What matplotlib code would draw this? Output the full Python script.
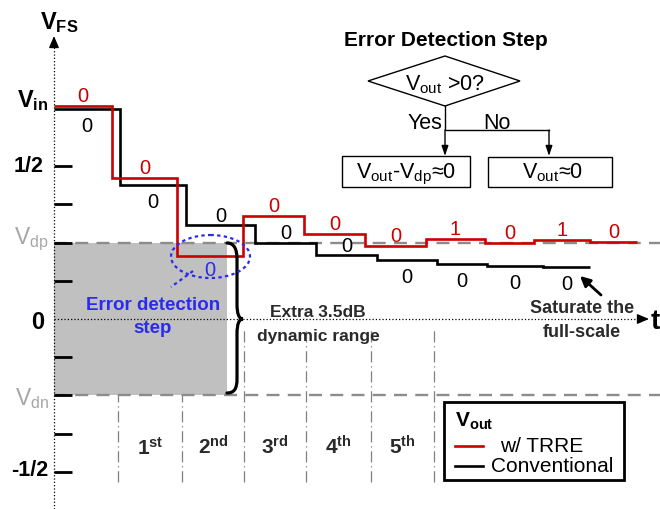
import matplotlib
matplotlib.use("Agg")
import matplotlib.pyplot as plt
from matplotlib.patches import Polygon, Rectangle, Ellipse, PathPatch
from matplotlib.path import Path

plt.rcParams['font.family'] = ['Liberation Sans', 'DejaVu Sans']
plt.rcParams['mathtext.fontset'] = 'custom'
plt.rcParams['mathtext.rm'] = 'Liberation Sans'
plt.rcParams['mathtext.it'] = 'Liberation Sans'
plt.rcParams['mathtext.bf'] = 'Liberation Sans:bold'

# step waveforms (time in arbitrary units, voltage in V_FS units)
t_red = [0, 58, 123, 189, 250, 311, 372, 431, 480, 536, 583]
v_red = [0.696, 0.461, 0.206, 0.337, 0.278, 0.239, 0.261, 0.248, 0.258, 0.252]
bits_red = ['0', '0', '0', '0', '0', '0', '1', '0', '1', '0']

t_blk = [0, 66, 132, 201, 262, 323, 383, 433, 489, 536]
v_blk = [0.686, 0.438, 0.307, 0.250, 0.209, 0.193, 0.180, 0.173, 0.170]
bits_blk = ['0'] * 9
blk_above = [False, False, True, True, True, False, False, False, False]

v_dp = 0.25
v_dn = -0.25
ytick_vals = [0.5, 0.375, 0.25, 0.125, -0.125, -0.25, -0.375, -0.5]
t_fill_end = 173
error_step = 2

step_edges = [64, 128, 190, 252, 317, 380]
step_names = ['1', '2', '3', '4', '5']
step_sup = ['st', 'nd', 'rd', 'th', 'th']

RED = '#cc0000'
BLUE = '#2b2bee'
GRAY = '#8c8c8c'
DARK = '#2a2a2a'

fig = plt.figure(figsize=(6.6, 5.1), dpi=100)
ax = fig.add_axes([0, 0, 1, 1])
ax.set_xlim(-54, 606)
ax.set_ylim(-0.621, 1.046)
ax.axis('off')

# overlay in pixel coordinates for the annotations
ov = fig.add_axes([0, 0, 1, 1])
ov.set_xlim(0, 660)
ov.set_ylim(510, 0)
ov.axis('off')
ov.patch.set_alpha(0)

head = dict(arrowstyle='-|>,head_length=0.7,head_width=0.3', lw=1, color='k', shrinkA=0, shrinkB=0)

# grey region and reference levels
ax.fill_between([0, t_fill_end], [v_dn, v_dn], [v_dp, v_dp], color='#c0c0c0', lw=0, zorder=2)
ax.hlines([v_dp, v_dn], 0, 606, colors=GRAY, lw=1.7, linestyles=[(0, (5.5, 3.5))], zorder=3)
ax.vlines(step_edges, -0.533, -0.033, colors='#808080', lw=0.9,
          linestyles=[(0, (9, 3, 1, 3))], zorder=1)

# axes
ax.plot([0, 0], [-0.621, 0.905], ls=':', lw=0.9, color='k', zorder=3)
ov.annotate('', xy=(54, 37), xytext=(54, 47), arrowprops=head)
ax.plot([0, 586], [0, 0], ls=':', lw=0.9, color='k', zorder=3)
ov.annotate('', xy=(649, 320), xytext=(639, 320), arrowprops=head)
ax.hlines(ytick_vals, 0, 18, colors='k', lw=2, zorder=6)

# waveforms
ax.stairs(v_blk, t_blk, baseline=None, color='k', lw=1.9, zorder=4)
ax.stairs(v_red, t_red, baseline=None, color=RED, lw=1.9, zorder=5)

for i, b in enumerate(bits_red):
    xc = (t_red[i] + t_red[i + 1]) / 2
    if i == error_step:
        ax.annotate(b, (xc, v_red[i]), xytext=(0, -3), textcoords='offset points',
                    ha='center', va='top', fontsize=14.5, color=BLUE, zorder=7)
    else:
        ax.annotate(b, (xc, v_red[i]), xytext=(0, 3.5), textcoords='offset points',
                    ha='center', va='baseline', fontsize=14.5, color=RED, zorder=7)

for i, b in enumerate(bits_blk):
    xc = (t_blk[i] + t_blk[i + 1]) / 2
    if blk_above[i]:
        ax.annotate(b, (xc, v_blk[i]), xytext=(0, 3), textcoords='offset points',
                    ha='center', va='baseline', fontsize=14.5, color='k', zorder=7)
    else:
        ax.annotate(b, (xc, v_blk[i]), xytext=(0, -5), textcoords='offset points',
                    ha='center', va='top', fontsize=14.5, color='k', zorder=7)

# step labels
for i in range(len(step_names)):
    xc = (step_edges[i] + step_edges[i + 1]) / 2
    ax.text(xc, -0.44, r'%s$^{\mathbf{%s}}$' % (step_names[i], step_sup[i]),
            ha='center', va='baseline', fontsize=15, fontweight='bold', color=DARK)

# y labels
ov.text(40, 29, r'$\mathbf{V_{FS}}$', fontsize=17, ha='left', va='baseline')
ov.text(49, 107, r'$\mathbf{V_{in}}$', fontsize=17, ha='right', va='baseline')
ov.text(44, 167, '1/2', fontsize=15.5, fontweight='bold', ha='right', va='center')
ov.text(49, 244, r'$\mathrm{V_{dp}}$', fontsize=16.5, color='#a6a6a6', ha='right', va='baseline')
ov.text(44, 323, '0', fontsize=17, fontweight='bold', ha='right', va='center')
ov.text(49, 405, r'$\mathrm{V_{dn}}$', fontsize=16.5, color='#a6a6a6', ha='right', va='baseline')
ov.text(48, 471, '-1/2', fontsize=15.5, fontweight='bold', ha='right', va='center')
ov.text(651, 322, 't', fontsize=20, fontweight='bold', ha='left', va='center')

# brace
verts = [(227, 244), (234, 244), (237, 250), (237, 260), (237, 305),
         (237, 315), (239, 320), (243, 320),
         (239, 320), (237, 325), (237, 335), (237, 380),
         (237, 390), (234, 394), (227, 394)]
codes = [Path.MOVETO, Path.CURVE4, Path.CURVE4, Path.CURVE4, Path.LINETO,
         Path.CURVE4, Path.CURVE4, Path.CURVE4,
         Path.CURVE4, Path.CURVE4, Path.CURVE4, Path.LINETO,
         Path.CURVE4, Path.CURVE4, Path.CURVE4]
ov.add_patch(PathPatch(Path(verts, codes), fill=False, lw=2.3, ec='k', capstyle='round', zorder=8))

ov.text(318, 317, 'Extra 3.5dB', fontsize=12.5, fontweight='bold', color=DARK, ha='center', va='baseline')
ov.text(318, 341, 'dynamic range', fontsize=12.5, fontweight='bold', color=DARK, ha='center', va='baseline')

# error detection highlight
ov.add_patch(Ellipse((210.5, 257.5), 79, 43, fill=False, ec=BLUE, lw=1.6, ls=(0, (1.5, 1.5)), zorder=8))
ov.plot([193, 171], [272, 288], color=BLUE, lw=1.6, ls=(0, (1.5, 1.5)), zorder=8)
ov.text(153, 310, 'Error detection', fontsize=13.5, fontweight='bold', color=BLUE, ha='center', va='baseline')
ov.text(153, 333, 'step', fontsize=13.5, fontweight='bold', color=BLUE, ha='center', va='baseline')

# saturation note
ov.text(582, 313, 'Saturate the', fontsize=13, fontweight='bold', color=DARK, ha='center', va='baseline')
ov.text(582, 337, 'full-scale', fontsize=13, fontweight='bold', color=DARK, ha='center', va='baseline')
ov.annotate('', xy=(580, 277), xytext=(601, 296),
            arrowprops=dict(arrowstyle='-|>,head_length=0.6,head_width=0.3', lw=2, color='k',
                            shrinkA=0, shrinkB=0))

# flowchart
ov.text(446, 46, 'Error Detection Step', fontsize=15, fontweight='bold', ha='center', va='baseline')
ov.add_patch(Polygon([(368, 82), (445, 57), (520, 82), (445, 107)], closed=True, fill=False, lw=1, ec='k'))
ov.text(445, 90, r'$\mathrm{V_{out}}$ >0?', fontsize=15.5, ha='center', va='baseline')
ov.plot([445, 445, 549], [107, 131, 131], color='k', lw=1)
for xa in (445, 549):
    ov.annotate('', xy=(xa, 157), xytext=(xa, 131),
                arrowprops=dict(arrowstyle='-|>,head_length=0.6,head_width=0.2', lw=1, color='k',
                                shrinkA=0, shrinkB=0))
ov.text(442, 129, 'Yes', fontsize=15.5, ha='right', va='baseline')
ov.text(483, 129, 'No', fontsize=15.5, ha='left', va='baseline')
ov.add_patch(Rectangle((342, 157), 128, 31, fill=False, lw=1, ec='k'))
ov.add_patch(Rectangle((488, 158), 124, 30, fill=False, lw=1, ec='k'))
ov.text(406, 178, r'$\mathrm{V_{out}}$-$\mathrm{V_{dp}}$≈0', fontsize=15.5, ha='center', va='baseline')
ov.text(553, 178, r'$\mathrm{V_{out}}$≈0', fontsize=15.5, ha='center', va='baseline')

# legend
ov.add_patch(Rectangle((444, 403), 180, 78, fill=False, lw=2, ec='k', zorder=9))
ov.text(455, 427, r'$\mathbf{V_{out}}$', fontsize=15, ha='left', va='baseline')
ov.plot([455, 483], [447, 447], color=RED, lw=1.9)
ov.plot([455, 483], [467, 467], color='k', lw=1.9)
ov.text(500, 447, 'w/ TRRE', fontsize=15, ha='left', va='center')
ov.text(491, 467, 'Conventional', fontsize=15, ha='left', va='center')

fig.savefig('out.png', dpi=100)
